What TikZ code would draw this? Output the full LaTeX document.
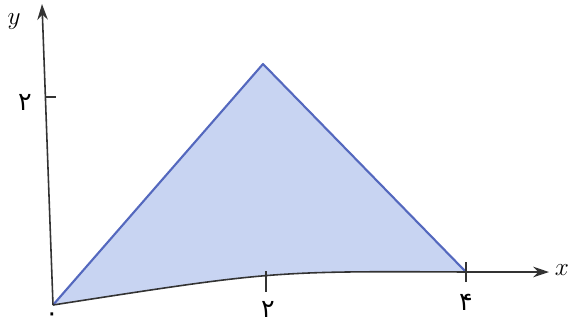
\documentclass[tikz,border=0pt]{standalone}
\usepackage{fontspec}
\newfontfamily\arabicfont[Script=Arabic]{DejaVu Sans}
\usetikzlibrary{arrows.meta}
\definecolor{triedge}{RGB}{84,104,190}
\definecolor{trifill}{RGB}{200,212,242}
\tikzset{axis/.style={draw=black!80,line width=0.9pt},
  edge/.style={draw=triedge,line width=1.2pt},
  lbl/.style={font=\arabicfont\Large}}
\begin{document}
\begin{tikzpicture}[x=0.02cm,y=-0.02cm]
        \useasboundingbox (0,0) rectangle (569,329);
        \coordinate (O) at (53,305);
        \coordinate (A) at (263,64);
        \coordinate (B) at (466,272);
        \coordinate (C) at (272,271);
        \coordinate (X) at (549,272);
        \coordinate (Y) at (42,4);
        \fill[trifill] (O) -- (A) -- (B) .. controls (C) .. (O);
        \draw[edge,line join=round] (O) -- (A) -- (B);
        \draw[axis,-{Stealth[length=9pt,width=6pt]}] (O) .. controls (C) .. (B) -- (X);
        \draw[axis,-{Stealth[length=9pt,width=6pt]}] (O) -- (Y);
        \draw[axis] (45.5,97) -- (56,97);
        \draw[axis] (266,271) -- (266,292);
        \draw[axis] (466,262) -- (466,282);
        \node (ylab) at (14,22) {\Large$y$};
        \node (xlab) at (562,270) {\Large$x$};
        \node[lbl] (zero) at (52,317) {۰};
        \node[lbl] (ytwo) at (25,102) {۲};
        \node[lbl] (xtwo) at (268,309) {۲};
        \node[lbl] (xfour) at (466,302) {۴};
    \end{tikzpicture}
\end{document}
